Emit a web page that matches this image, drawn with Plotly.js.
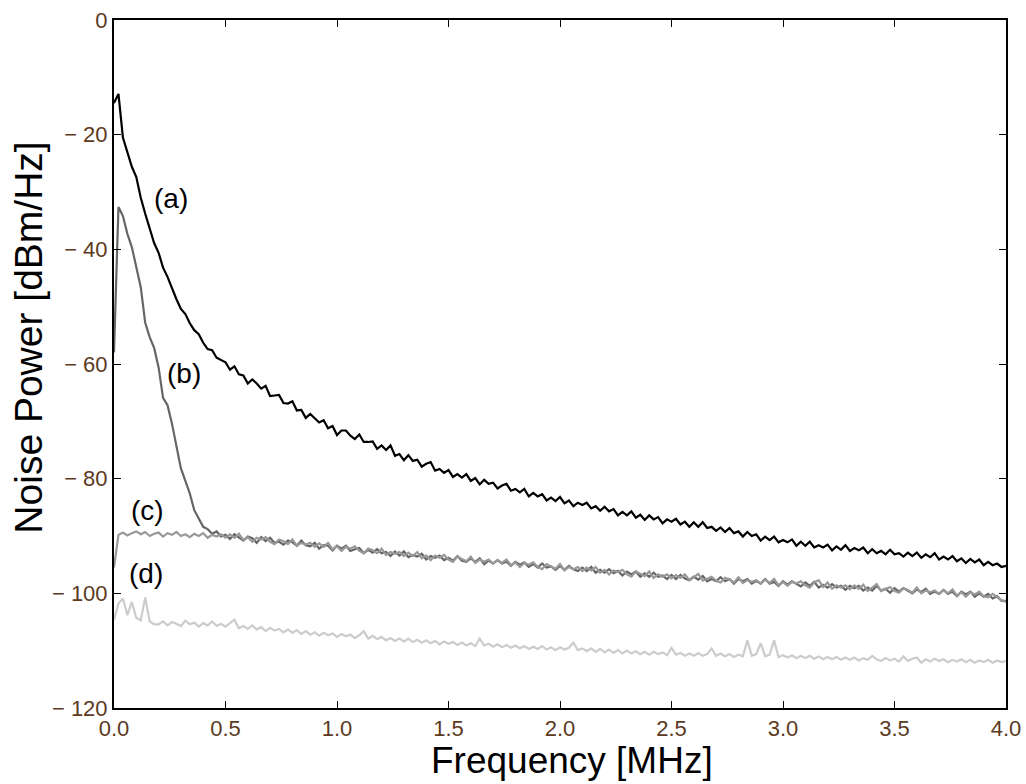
<!DOCTYPE html>
<html>
<head>
<meta charset="utf-8">
<script src="https://cdn.plot.ly/plotly-3.0.1.min.js"></script>
<style>html,body{margin:0;padding:0;background:#fff;}#chart{width:1026px;height:784px;}</style>
</head>
<body>
<div id="chart"></div>
<script>
// Frequency axis (MHz)
const freq = [
0.00,0.02,0.04,0.06,0.08,0.10,0.12,0.14,0.16,0.18,
0.20,0.22,0.24,0.26,0.28,0.30,0.32,0.34,0.36,0.38,
0.40,0.42,0.44,0.46,0.48,0.50,0.52,0.54,0.56,0.58,
0.60,0.62,0.64,0.66,0.68,0.70,0.72,0.74,0.76,0.78,
0.80,0.82,0.84,0.86,0.88,0.90,0.92,0.94,0.96,0.98,
1.00,1.02,1.04,1.06,1.08,1.10,1.12,1.14,1.16,1.18,
1.20,1.22,1.24,1.26,1.28,1.30,1.32,1.34,1.36,1.38,
1.40,1.42,1.44,1.46,1.48,1.50,1.52,1.54,1.56,1.58,
1.60,1.62,1.64,1.66,1.68,1.70,1.72,1.74,1.76,1.78,
1.80,1.82,1.84,1.86,1.88,1.90,1.92,1.94,1.96,1.98,
2.00,2.02,2.04,2.06,2.08,2.10,2.12,2.14,2.16,2.18,
2.20,2.22,2.24,2.26,2.28,2.30,2.32,2.34,2.36,2.38,
2.40,2.42,2.44,2.46,2.48,2.50,2.52,2.54,2.56,2.58,
2.60,2.62,2.64,2.66,2.68,2.70,2.72,2.74,2.76,2.78,
2.80,2.82,2.84,2.86,2.88,2.90,2.92,2.94,2.96,2.98,
3.00,3.02,3.04,3.06,3.08,3.10,3.12,3.14,3.16,3.18,
3.20,3.22,3.24,3.26,3.28,3.30,3.32,3.34,3.36,3.38,
3.40,3.42,3.44,3.46,3.48,3.50,3.52,3.54,3.56,3.58,
3.60,3.62,3.64,3.66,3.68,3.70,3.72,3.74,3.76,3.78,
3.80,3.82,3.84,3.86,3.88,3.90,3.92,3.94,3.96,3.98,
4.00];

// (a) noise power [dBm/Hz]
const seriesA = [
-14.5,-12.9,-20.5,-23.2,-25.6,-27.4,-31.0,-33.8,-36.5,-38.9,
-40.6,-43.2,-44.8,-46.9,-48.7,-50.4,-51.3,-52.9,-54.1,-54.8,
-56.3,-57.4,-57.6,-58.9,-59.3,-59.7,-61.0,-60.4,-61.8,-62.0,
-63.4,-62.7,-63.4,-64.3,-63.8,-65.6,-65.5,-65.4,-66.8,-66.9,
-66.5,-68.1,-68.0,-69.4,-68.7,-69.5,-70.2,-69.8,-71.2,-70.8,
-72.4,-71.6,-71.6,-72.5,-73.1,-72.3,-73.6,-73.6,-73.5,-74.8,
-74.2,-75.0,-74.2,-76.0,-75.7,-76.8,-75.9,-76.9,-76.7,-77.9,
-77.4,-77.1,-78.6,-78.3,-79.0,-78.5,-79.7,-79.2,-79.8,-79.2,
-80.4,-79.9,-81.0,-80.2,-80.9,-80.7,-81.7,-81.2,-80.9,-82.1,
-81.8,-82.4,-81.8,-83.1,-82.5,-83.1,-82.7,-83.8,-83.3,-83.9,
-83.2,-84.3,-83.8,-84.8,-84.2,-84.6,-84.2,-85.2,-84.8,-85.6,
-84.9,-85.7,-85.3,-86.4,-85.8,-86.4,-85.7,-86.8,-86.3,-87.2,
-86.4,-87.1,-86.7,-87.8,-87.1,-87.5,-87.0,-88.0,-87.5,-88.4,
-87.6,-88.4,-87.6,-88.6,-88.4,-89.1,-88.5,-89.3,-88.6,-89.5,
-89.2,-90.1,-89.3,-90.0,-89.7,-90.8,-90.1,-90.7,-90.1,-91.1,
-90.7,-91.1,-90.6,-91.7,-91.0,-91.7,-91.0,-92.0,-91.6,-92.0,
-91.5,-92.5,-91.8,-92.4,-91.6,-92.6,-92.1,-92.5,-92.0,-93.0,
-92.3,-93.0,-92.6,-93.2,-92.4,-93.2,-93.0,-93.6,-92.9,-93.5,
-92.9,-93.8,-93.2,-93.7,-93.0,-94.1,-93.6,-94.1,-93.5,-94.4,
-93.9,-94.7,-94.0,-94.6,-94.1,-95.1,-94.5,-95.1,-94.8,-95.4,
-95.2];

// (b)
const seriesB = [
-58.0,-32.6,-34.2,-37.3,-39.6,-43.0,-46.6,-52.8,-55.3,-57.2,
-60.6,-65.9,-67.2,-70.4,-74.6,-78.2,-80.4,-82.6,-85.5,-87.0,
-88.4,-88.8,-89.6,-89.2,-90.1,-89.8,-90.5,-89.7,-90.3,-90.8,
-90.1,-90.4,-91.2,-90.2,-90.9,-90.3,-91.2,-91.0,-91.5,-90.8,
-91.1,-91.7,-90.8,-91.6,-91.8,-91.2,-92.2,-91.6,-91.7,-92.5,
-91.7,-92.2,-91.7,-92.6,-92.3,-92.1,-93.0,-92.4,-92.9,-92.3,
-93.0,-92.8,-93.5,-92.7,-93.4,-92.7,-93.7,-93.3,-93.6,-93.1,
-94.1,-93.5,-93.8,-93.4,-94.2,-93.8,-94.3,-93.5,-94.3,-94.5,
-93.9,-94.5,-93.9,-94.9,-94.3,-94.8,-94.2,-94.8,-94.5,-95.2,
-94.5,-95.0,-94.6,-95.4,-94.9,-95.5,-94.8,-95.5,-95.3,-95.9,
-95.2,-95.9,-95.2,-95.8,-96.1,-95.5,-96.1,-95.4,-96.4,-95.9,
-96.4,-95.8,-96.5,-96.1,-96.9,-96.2,-96.7,-96.2,-97.1,-96.5,
-97.1,-96.4,-97.1,-96.9,-97.5,-96.8,-97.5,-96.8,-97.4,-97.7,
-97.1,-97.6,-97.0,-97.9,-97.5,-97.9,-97.2,-97.9,-97.5,-98.3,
-97.5,-97.9,-97.5,-98.3,-97.8,-98.3,-97.5,-98.3,-98.0,-98.7,
-97.9,-98.5,-97.9,-98.4,-98.8,-98.1,-98.7,-98.0,-99.0,-98.5,
-99.0,-98.4,-99.0,-98.7,-99.4,-98.7,-99.1,-98.7,-99.5,-99.0,
-99.5,-98.7,-99.5,-99.2,-99.9,-99.1,-99.7,-99.1,-99.6,-100.0,
-99.3,-99.8,-99.2,-100.1,-99.7,-100.1,-99.4,-100.1,-99.7,-100.5,
-99.7,-100.2,-99.7,-100.6,-100.0,-100.6,-100.1,-100.9,-100.5,-101.3,
-101.3];

// (c)
const seriesC = [
-95.5,-89.8,-89.4,-89.9,-89.5,-89.2,-89.7,-89.3,-90.0,-89.6,
-89.4,-90.1,-89.5,-89.8,-89.3,-90.0,-89.7,-90.2,-89.6,-90.0,
-89.5,-90.3,-89.8,-90.1,-89.7,-90.3,-89.7,-90.3,-89.6,-90.7,
-90.2,-91.0,-90.3,-90.6,-90.2,-91.0,-91.4,-90.6,-90.9,-91.4,
-90.6,-91.7,-91.2,-91.5,-91.2,-91.9,-91.3,-91.9,-91.2,-92.3,
-91.8,-92.6,-91.9,-92.2,-91.8,-92.6,-93.0,-92.2,-92.5,-93.0,
-92.2,-93.3,-92.8,-93.1,-92.8,-93.5,-92.9,-93.5,-92.8,-93.9,
-93.4,-94.2,-93.4,-93.8,-93.3,-94.1,-94.5,-93.6,-94.0,-94.4,
-93.6,-94.7,-94.1,-94.5,-94.1,-94.8,-94.2,-94.7,-94.1,-95.1,
-94.6,-95.4,-94.7,-95.0,-94.6,-95.4,-95.8,-94.9,-95.3,-95.7,
-94.9,-96.0,-95.4,-95.8,-95.4,-96.1,-95.5,-96.0,-95.4,-96.4,
-95.9,-96.7,-96.0,-96.3,-95.9,-96.7,-97.1,-96.2,-96.6,-97.0,
-96.2,-97.3,-96.7,-97.1,-96.7,-97.4,-96.8,-97.3,-96.7,-97.7,
-97.2,-96.6,-97.8,-97.5,-97.1,-97.8,-98.1,-97.3,-97.6,-98.1,
-97.2,-98.2,-97.7,-98.0,-97.7,-98.3,-97.6,-98.2,-97.5,-98.6,
-98.0,-98.7,-98.0,-98.3,-97.9,-98.6,-99.0,-98.1,-97.7,-98.9,
-98.1,-99.2,-98.6,-99.0,-98.6,-99.3,-98.6,-99.2,-98.5,-99.6,
-99.0,-98.4,-99.6,-99.3,-98.9,-99.6,-99.9,-99.1,-99.4,-99.9,
-99.0,-100.0,-99.5,-99.8,-99.5,-100.1,-99.4,-100.0,-99.3,-100.4,
-99.8,-100.6,-99.8,-100.2,-99.7,-100.5,-100.7,-100.1,-100.6,-101.2,
-101.5];

// (d)
const seriesD = [
-104.6,-101.8,-100.9,-103.8,-101.5,-104.3,-104.7,-100.7,-104.9,-105.4,
-105.4,-104.9,-105.6,-105.0,-105.3,-105.7,-104.8,-105.4,-105.1,-105.8,
-105.2,-105.6,-104.9,-105.7,-105.3,-105.8,-105.2,-104.6,-106.1,-105.7,
-106.2,-105.6,-106.3,-105.9,-106.6,-106.0,-106.5,-106.2,-106.8,-106.3,
-106.9,-106.4,-107.1,-106.6,-107.2,-106.8,-107.4,-106.9,-107.3,-107.0,
-107.6,-107.1,-107.5,-107.2,-107.8,-107.3,-106.6,-107.9,-107.4,-108.0,
-107.6,-108.2,-107.8,-108.3,-107.9,-108.4,-107.9,-108.5,-108.1,-108.6,
-108.2,-108.7,-108.3,-108.9,-108.4,-108.8,-108.5,-109.0,-108.6,-109.1,
-108.7,-109.2,-107.9,-109.1,-108.8,-109.3,-108.9,-109.4,-109.0,-109.5,
-109.1,-109.6,-109.2,-109.7,-109.3,-109.7,-109.2,-109.8,-109.4,-109.9,
-109.4,-109.8,-109.5,-108.6,-109.9,-109.6,-110.1,-109.6,-110.2,-109.7,
-110.3,-109.8,-110.4,-109.9,-110.5,-110.0,-110.5,-110.1,-110.6,-110.2,
-110.7,-110.2,-110.6,-110.3,-110.8,-109.5,-110.7,-110.4,-110.9,-110.5,
-110.9,-110.4,-110.9,-110.6,-109.6,-110.9,-110.5,-111.0,-110.6,-111.1,
-110.7,-111.0,-108.2,-110.9,-110.6,-108.7,-111.0,-110.7,-108.2,-111.1,
-110.8,-111.2,-110.8,-111.3,-110.9,-111.3,-110.9,-111.4,-111.0,-111.5,
-111.1,-111.5,-111.1,-111.6,-111.2,-111.6,-111.2,-111.7,-111.3,-111.6,
-110.9,-111.5,-111.8,-111.3,-111.7,-111.4,-111.9,-111.0,-111.8,-111.4,
-111.2,-112.1,-111.5,-111.9,-111.4,-111.8,-111.5,-112.0,-111.6,-111.9,
-111.5,-112.0,-111.6,-112.1,-111.7,-112.0,-111.6,-112.1,-111.7,-112.0,
-111.8];

const curveLabels = ['(a)', '(b)', '(c)', '(d)'];
const xTickVals = [0, 0.5, 1.0, 1.5, 2.0, 2.5, 3.0, 3.5, 4.0];
const xTickText = ['0.0', '0.5', '1.0', '1.5', '2.0', '2.5', '3.0', '3.5', '4.0'];
const yTickVals = [0, -20, -40, -60, -80, -100, -120];
const yTickText = ['0', '\u2212 20', '\u2212 40', '\u2212 60', '\u2212 80', '\u2212 100', '\u2212 120'];
const xTitle = 'Frequency [MHz]';
const yTitle = 'Noise Power [dBm/Hz]';

const FONT = 'Liberation Sans, Arial, sans-serif';
const TICKCOL = '#5c3a1e';

const traces = [
  {x: freq, y: seriesA, name: curveLabels[0], mode: 'lines', line: {color: '#000000', width: 2.2}},
  {x: freq, y: seriesB, name: curveLabels[1], mode: 'lines', line: {color: '#666666', width: 2.2}},
  {x: freq, y: seriesC, name: curveLabels[2], mode: 'lines', line: {color: '#999999', width: 2.2}},
  {x: freq, y: seriesD, name: curveLabels[3], mode: 'lines', line: {color: '#cccccc', width: 2.2}}
];

const labelPos = [[0.257, -31.1], [0.316, -61.6], [0.152, -85.5], [0.144, -96.5]];
const annotations = curveLabels.map((t, i) => ({
  x: labelPos[i][0], y: labelPos[i][1], xref: 'x', yref: 'y',
  text: t, showarrow: false, font: {family: FONT, size: 28, color: '#000'}
}));
annotations.push({
  xref: 'paper', yref: 'paper', x: 0.513, y: -0.077, xanchor: 'center', yanchor: 'middle',
  text: xTitle, showarrow: false, borderpad: 0, font: {family: FONT, size: 37, color: '#000'}
});
annotations.push({
  xref: 'paper', yref: 'paper', x: -0.0959, y: 0.539, xanchor: 'center', yanchor: 'middle',
  text: yTitle, textangle: -90, showarrow: false, borderpad: 0, font: {family: FONT, size: 39, color: '#000'}
});

const layout = {
  width: 1026, height: 784,
  margin: {l: 114, r: 20, t: 20, b: 76, pad: 0},
  paper_bgcolor: '#ffffff', plot_bgcolor: '#ffffff',
  showlegend: false,
  font: {family: FONT},
  xaxis: {
    range: [0, 4], tickmode: 'array', tickvals: xTickVals, ticktext: xTickText,
    ticks: 'inside', ticklen: 7, tickwidth: 1, tickcolor: '#000',
    showline: true, linecolor: '#000', linewidth: 2, mirror: 'ticks',
    showgrid: false, zeroline: false,
    tickfont: {family: FONT, size: 22, color: TICKCOL}
  },
  yaxis: {
    range: [-120, 0], tickmode: 'array', tickvals: yTickVals, ticktext: yTickText,
    ticks: 'inside', ticklen: 7, tickwidth: 1, tickcolor: '#000',
    showline: true, linecolor: '#000', linewidth: 2, mirror: 'ticks',
    showgrid: false, zeroline: false,
    tickfont: {family: FONT, size: 22, color: TICKCOL}
  },
  annotations: annotations
};

Plotly.newPlot('chart', traces, layout, {displayModeBar: false, staticPlot: true});
</script>
</body>
</html>
